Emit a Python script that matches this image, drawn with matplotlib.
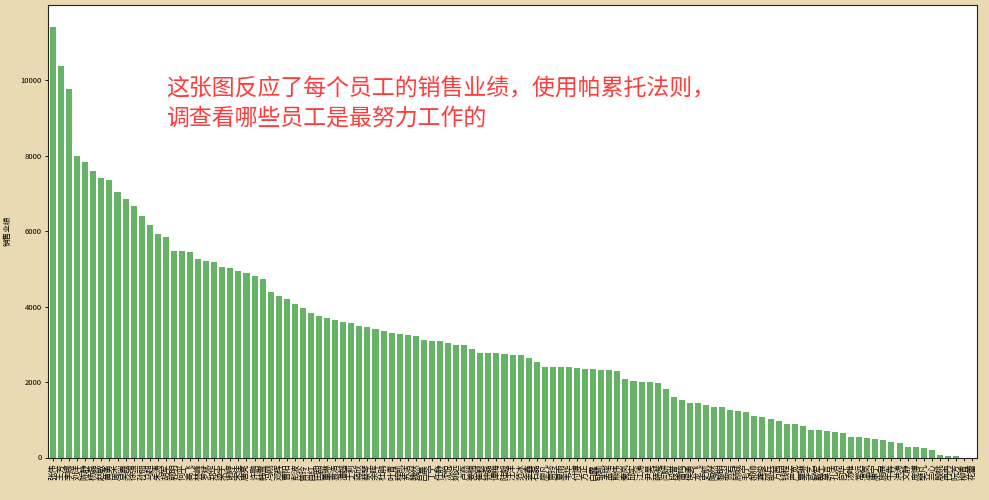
import matplotlib
matplotlib.use('Agg')
import matplotlib.pyplot as plt
import pandas as pd

plt.rcParams['font.family'] = ['Noto Sans CJK SC', 'DejaVu Sans']
plt.rcParams['axes.unicode_minus'] = False

# employee names (x tick labels, original ones are blurred in the picture)
names = ['张伟', '王芳', '李娜', '刘洋', '陈静', '杨磊', '赵敏', '黄勇', '周杰', '吴霞',
         '徐强', '孙丽', '马超', '朱涛', '胡军', '郭明', '何平', '高飞', '林峰', '罗斌',
         '郑华', '梁宇', '谢婷', '宋佳', '唐亮', '许鹏', '韩雪', '冯刚', '邓辉', '曹阳',
         '彭波', '曾玲', '肖红', '田甜', '董琳', '袁浩', '潘越', '于莉', '蒋欣', '蔡琴',
         '余晖', '杜鹃', '叶青', '程凯', '苏洁', '魏然', '吕晨', '丁宁', '任静', '沈悦',
         '姚远', '卢燕', '姜楠', '崔颖', '钟磊', '谭梅', '陆毅', '汪洋', '范冰', '金鑫',
         '石磊', '廖凡', '贾玲', '夏雨', '韦华', '付博', '方正', '白露', '邹凯', '孟瑶',
         '熊伟', '秦岚', '邱实', '江涛', '尹昊', '薛凝', '闫妍', '段誉', '雷鸣', '侯勇',
         '龙飞', '史航', '陶然', '黎明', '贺岩', '顾城', '毛宁', '郝帅', '龚俊', '邵兵',
         '万茜', '钱程', '严宽', '覃琳', '武艺', '戴军', '莫言', '孔洁', '向华', '汤唯',
         '常远', '温岚', '康宁', '施展', '牛犇', '洪涛', '文静', '庞博', '樊凡', '兰心',
         '殷桃', '冉冉', '阮芳', '柳青', '花蕾']

# sales per employee, sorted descending
sales = [11420, 10380, 9760, 7985, 7825, 7595, 7405, 7360, 7035, 6855,
         6670, 6405, 6170, 5930, 5845, 5480, 5465, 5440, 5270, 5220,
         5175, 5050, 5025, 4955, 4895, 4820, 4740, 4390, 4275, 4190,
         4055, 3950, 3820, 3745, 3705, 3640, 3600, 3570, 3495, 3465,
         3395, 3350, 3290, 3265, 3235, 3220, 3105, 3085, 3080, 3025,
         2975, 2970, 2885, 2780, 2775, 2760, 2755, 2710, 2705, 2645,
         2535, 2410, 2405, 2400, 2385, 2365, 2340, 2335, 2315, 2310,
         2295, 2075, 2030, 2005, 1990, 1985, 1810, 1590, 1520, 1440,
         1435, 1390, 1345, 1340, 1255, 1235, 1210, 1090, 1085, 1015,
         965, 885, 880, 830, 730, 725, 700, 665, 660, 550,
         530, 510, 490, 460, 400, 380, 285, 265, 260, 195,
         60, 40, 38, 0, 0]

note = '这张图反应了每个员工的销售业绩，使用帕累托法则，\n调查看哪些员工是最努力工作的'

df = pd.DataFrame({'销售业绩': sales}, index=names)

fig = plt.figure(figsize=(9.89, 5.0), dpi=100, facecolor='#e9dab4')
ax = fig.add_axes([0.0485, 0.085, 0.9395, 0.905])
df['销售业绩'].plot(kind='bar', ax=ax, color='g', alpha=0.6, width=0.75, rot=90)

ax.set_ylabel('销售业绩', fontsize=5.5, labelpad=6)
ax.tick_params(axis='y', labelsize=5.5, length=2.5, width=0.6, pad=2)
ax.tick_params(axis='x', labelsize=6, length=2.5, width=0.6, pad=1.5)
ax.set_yticks([0, 2000, 4000, 6000, 8000, 10000])
for s in ax.spines.values():
    s.set_linewidth(0.8)
    s.set_color('#222222')
ax.set_xlabel('')

fig.text(0.168, 0.793, note, color='#ff3b3b', fontsize=16.5, va='center', ha='left',
         linespacing=1.32)

fig.savefig('out.png', dpi=100, facecolor=fig.get_facecolor())
